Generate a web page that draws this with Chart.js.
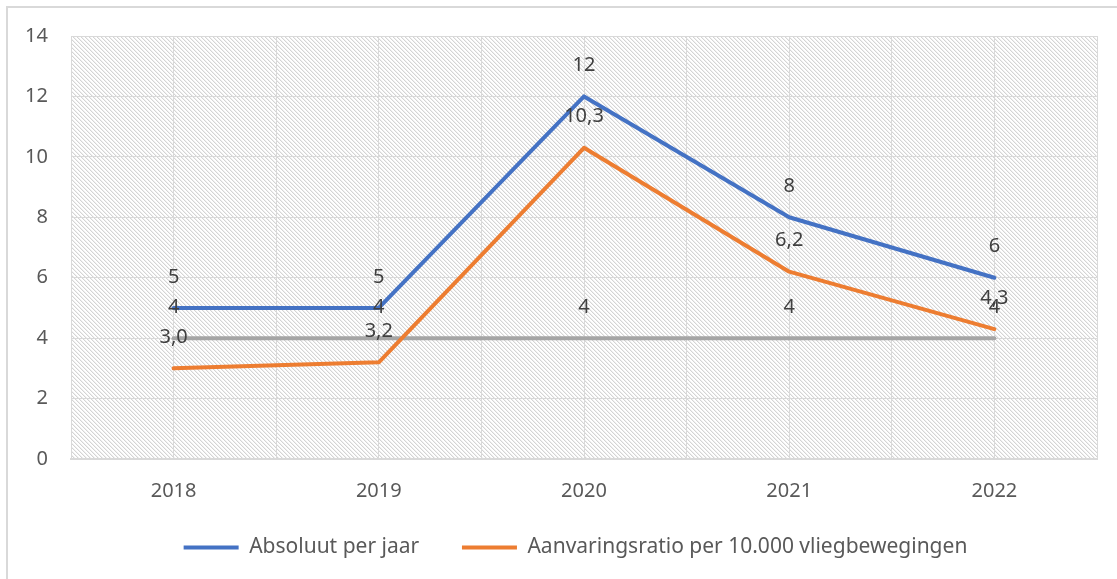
<!DOCTYPE html>
<html>
<head>
<meta charset="utf-8">
<script src="https://cdn.jsdelivr.net/npm/chart.js@4"></script>
<style>
  html, body { margin: 0; padding: 0; background: #fff; }
  #wrap { position: relative; width: 1117px; height: 579px; }
</style>
</head>
<body>
<div id="wrap"><canvas id="chart" width="1117" height="579"></canvas></div>
<script>
// Data
const years = ['2018', '2019', '2020', '2021', '2022'];
const absoluut = [5, 5, 12, 8, 6];
const ratio = [3.0, 3.2, 10.3, 6.2, 4.3];
const norm = [4, 4, 4, 4, 4];
const yTicks = [0, 2, 4, 6, 8, 10, 12, 14];

const FONT = '"Noto Sans", sans-serif';
const FSIZE = 20;

// hatched plot background (light downward diagonal)
function makeHatch() {
    const c = document.createElement('canvas');
    c.width = 4; c.height = 4;
    const g = c.getContext('2d');
    g.fillStyle = '#ffffff';
    g.fillRect(0, 0, 4, 4);
    for (let i = 0; i < 4; i++) {
        g.fillStyle = '#d4d4d4';
        g.fillRect(i, i, 1, 1);
        g.fillStyle = '#f0f0f0';
        g.fillRect((i + 1) % 4, i, 1, 1);
    }
    return c;
}

const backgroundPlugin = {
    id: 'bg',
    beforeDraw(chart) {
        const { ctx, chartArea: a, width, height } = chart;
        ctx.save();
        ctx.fillStyle = '#ffffff';
        ctx.fillRect(0, 0, width, height);
        // outer frame (left and top visible)
        ctx.strokeStyle = '#d9d9d9';
        ctx.lineWidth = 2;
        ctx.beginPath();
        ctx.moveTo(7, height);
        ctx.lineTo(7, 7);
        ctx.lineTo(width, 7);
        ctx.stroke();
        ctx.fillStyle = ctx.createPattern(makeHatch(), 'repeat');
        ctx.fillRect(a.left, a.top, a.right - a.left, a.bottom - a.top);
        ctx.restore();
    }
};

// legend sits a bit right of centre in the original
const legendShift = {
    id: 'legendShift',
    afterLayout(chart) {
        if (chart.legend) {
            chart.legend.left += 27;
            chart.legend.right += 27;
        }
    }
};

const labelPlugin = {
    id: 'valueLabels',
    afterDatasetsDraw(chart) {
        const { ctx } = chart;
        ctx.save();
        ctx.font = FSIZE + 'px ' + FONT;
        ctx.fillStyle = '#404040';
        ctx.textAlign = 'center';
        ctx.textBaseline = 'middle';
        chart.data.datasets.forEach((ds, i) => {
            const meta = chart.getDatasetMeta(i);
            meta.data.forEach((pt, j) => {
                const v = ds.data[j].y;
                const txt = ds.decimals ? v.toFixed(ds.decimals).replace('.', ',') : String(v);
                ctx.fillText(txt, pt.x, pt.y - 31);
            });
        });
        ctx.restore();
    }
};

const toPoints = arr => arr.map((v, i) => ({ x: i, y: v }));

new Chart(document.getElementById('chart'), {
    type: 'line',
    data: {
        datasets: [{
            label: 'Absoluut per jaar',
            data: toPoints(absoluut),
            borderColor: '#4472c4',
            backgroundColor: '#4472c4',
            borderWidth: 4,
            order: 0
        }, {
            label: 'Aanvaringsratio per 10.000 vliegbewegingen',
            data: toPoints(ratio),
            borderColor: '#ed7d31',
            backgroundColor: '#ed7d31',
            borderWidth: 4,
            decimals: 1,
            order: 1
        }, {
            label: 'Norm',
            data: toPoints(norm),
            borderColor: '#a5a5a5',
            backgroundColor: '#a5a5a5',
            borderWidth: 4,
            order: 2
        }]
    },
    options: {
        responsive: false,
        animation: false,
        devicePixelRatio: 1,
        layout: { padding: { top: 36, right: 20, left: 0, bottom: 11 } },
        elements: {
            point: { radius: 0, hoverRadius: 0 },
            line: { tension: 0, borderCapStyle: 'round', borderJoinStyle: 'round' }
        },
        scales: {
            x: {
                type: 'linear',
                min: -0.5,
                max: 4.5,
                afterFit: axis => { axis.height = 68; },
                afterBuildTicks: axis => {
                    const t = [];
                    for (let k = 0; k <= years.length * 2; k++) t.push({ value: -0.5 + k * 0.5 });
                    axis.ticks = t;
                },
                ticks: {
                    autoSkip: false,
                    maxRotation: 0,
                    padding: 20,
                    color: '#595959',
                    font: { family: FONT, size: FSIZE },
                    callback: v => Number.isInteger(v) ? years[v] : ''
                },
                grid: { color: '#d9d9d9', lineWidth: 1, drawTicks: false },
                border: { color: '#d9d9d9', width: 2 }
            },
            y: {
                min: 0,
                max: 14,
                afterFit: axis => { axis.width = 71; },
                afterBuildTicks: axis => { axis.ticks = yTicks.map(v => ({ value: v })); },
                ticks: {
                    padding: 23,
                    color: '#595959',
                    font: { family: FONT, size: FSIZE }
                },
                grid: { color: '#d9d9d9', lineWidth: 1, drawTicks: false },
                border: { display: false }
            }
        },
        plugins: {
            tooltip: { enabled: false },
            legend: {
                position: 'bottom',
                labels: {
                    usePointStyle: true,
                    pointStyle: 'line',
                    pointStyleWidth: 55,
                    padding: 10,
                    color: '#595959',
                    font: { family: FONT, size: 21 },
                    filter: item => item.text !== 'Norm',
                    generateLabels: chart => {
                        const items = Chart.defaults.plugins.legend.labels.generateLabels(chart);
                        // wider gap after the first entry, as in the original legend
                        items[0].text += '      ';
                        return items;
                    }
                }
            }
        }
    },
    plugins: [backgroundPlugin, legendShift, labelPlugin]
});
</script>
</body>
</html>
